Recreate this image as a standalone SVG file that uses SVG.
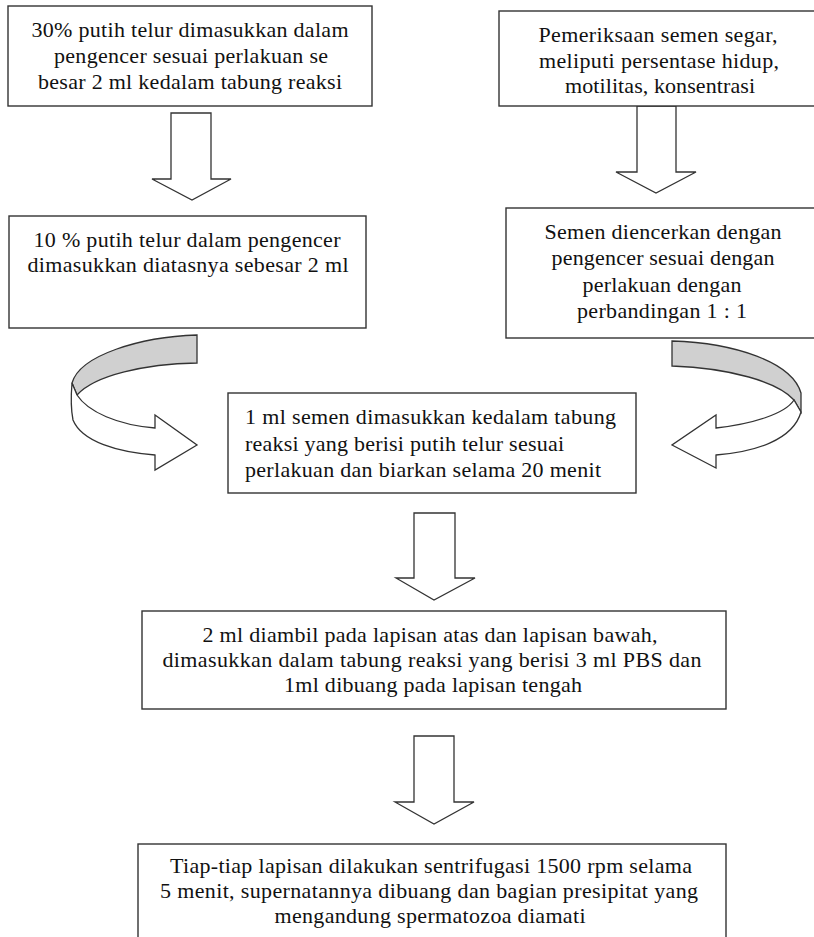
<svg xmlns="http://www.w3.org/2000/svg" width="814" height="937" viewBox="0 0 814 937">
<style>
.box{fill:#fff;stroke:#333;stroke-width:1.4}
.arr{fill:#fff;stroke:#333;stroke-width:1.3;stroke-linejoin:miter}
.back{fill:#d0d0d0;stroke:#333;stroke-width:1.3}
.c{text-anchor:middle}
</style>
<rect width="814" height="937" fill="#fff"/>
<g id="connectors">
<polygon class="arr" points="171,113 211,113 211,179 231,179 192,200 152,179 171,179"/>
<polygon class="arr" points="637,106 676,106 676,172 696,172 656,193 616,172 637,172"/>
<path class="back" d="M197,335 C140,337 80,355 72,383 L77,395 C95,375 145,364 197,363 Z"/>
<path class="arr" d="M72,383 C71,395 71,410 73,420 C82,442 118,452 155,455 L155,470 L197,445 L155,415 L155,428 C118,425 88,412 77,395 Z"/>
<path class="back" d="M672,341 C735,343 792,362 801,393 L801,412 L794,400 C778,382 730,368 672,366 Z"/>
<path class="arr" d="M794,400 L801,412 C793,440 755,452 716,455 L716,468 L672,445 L716,415 L716,428 C752,424 785,414 794,400 Z"/>
<polygon class="arr" points="414,513 455,513 455,578 475,578 434,600 396,578 414,578"/>
<polygon class="arr" points="414,736 454,736 454,802 474,802 434,824 395,802 414,802"/>
</g>
<g font-family="Liberation Serif" font-size="22" fill="#111">
<g id="n1">
<rect class="box" x="8" y="6" width="364" height="100"/>
<text class="c" x="190" y="37" textLength="317" lengthAdjust="spacing">30% putih telur dimasukkan dalam</text>
<text class="c" x="191" y="63" textLength="274" lengthAdjust="spacing">pengencer sesuai perlakuan se</text>
<text class="c" x="190" y="89" textLength="304" lengthAdjust="spacing">besar 2 ml kedalam tabung reaksi</text>
</g>
<g id="n2">
<rect class="box" x="9" y="216" width="357" height="112"/>
<text class="c" x="187" y="247" textLength="307" lengthAdjust="spacing">10 % putih telur dalam pengencer</text>
<text class="c" x="188" y="272" textLength="321" lengthAdjust="spacing">dimasukkan diatasnya sebesar 2 ml</text>
</g>
<g id="n3">
<rect class="box" x="499" y="11" width="325" height="95"/>
<text class="c" x="658" y="42" textLength="239" lengthAdjust="spacing">Pemeriksaan semen segar,</text>
<text class="c" x="659" y="68" textLength="240" lengthAdjust="spacing">meliputi persentase hidup,</text>
<text class="c" x="660" y="93" textLength="190" lengthAdjust="spacing">motilitas, konsentrasi</text>
</g>
<g id="n4">
<rect class="box" x="506" y="208" width="318" height="130"/>
<text class="c" x="663" y="239" textLength="237" lengthAdjust="spacing">Semen diencerkan dengan</text>
<text class="c" x="663" y="265" textLength="223" lengthAdjust="spacing">pengencer sesuai dengan</text>
<text class="c" x="662" y="292" textLength="159" lengthAdjust="spacing">perlakuan dengan</text>
<text class="c" x="662" y="318" textLength="170" lengthAdjust="spacing">perbandingan 1 : 1</text>
</g>
<g id="n5">
<rect class="box" x="228" y="393" width="408" height="100"/>
<text x="245" y="424" textLength="371" lengthAdjust="spacing">1 ml semen dimasukkan kedalam tabung</text>
<text x="245" y="451" textLength="319" lengthAdjust="spacing">reaksi yang berisi putih telur sesuai</text>
<text x="245" y="477" textLength="356" lengthAdjust="spacing">perlakuan dan biarkan selama 20 menit</text>
</g>
<g id="n6">
<rect class="box" x="142" y="611" width="584" height="98"/>
<text class="c" x="430" y="642" textLength="455" lengthAdjust="spacing">2 ml diambil pada lapisan atas dan lapisan bawah,</text>
<text class="c" x="432" y="667" textLength="539" lengthAdjust="spacing">dimasukkan dalam tabung reaksi yang berisi 3 ml PBS dan</text>
<text class="c" x="433" y="692" textLength="298" lengthAdjust="spacing">1ml dibuang pada lapisan tengah</text>
</g>
<g id="n7">
<rect class="box" x="138" y="844" width="588" height="110"/>
<text class="c" x="431" y="873" textLength="522" lengthAdjust="spacing">Tiap-tiap lapisan dilakukan sentrifugasi 1500 rpm selama</text>
<text class="c" x="429" y="898" textLength="538" lengthAdjust="spacing">5 menit, supernatannya dibuang dan bagian presipitat yang</text>
<text class="c" x="430" y="923" textLength="311" lengthAdjust="spacing">mengandung spermatozoa diamati</text>
</g>
</g>
</svg>
